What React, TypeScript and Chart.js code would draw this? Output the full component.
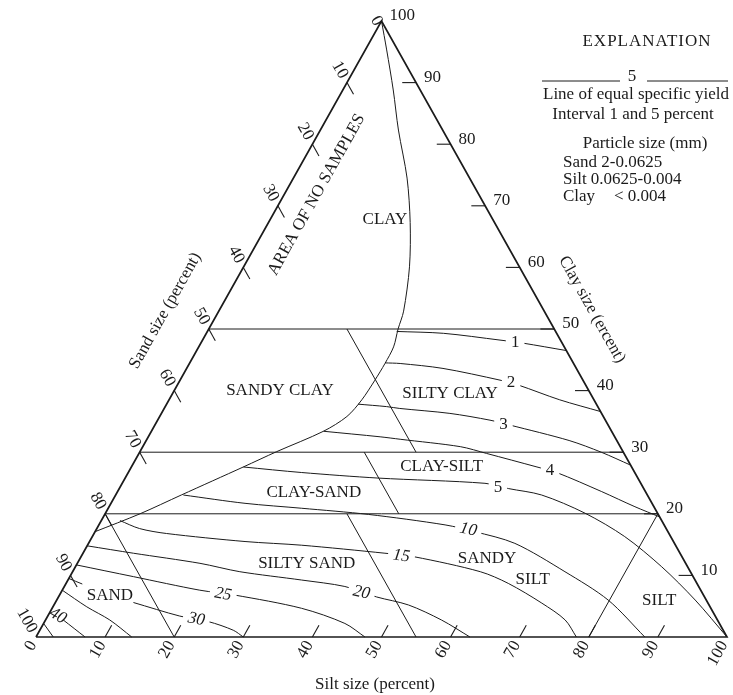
import React, { useEffect, useRef } from "react";
import { Chart, registerables } from "chart.js";

Chart.register(...registerables);

// A point is [silt %, clay %]; sand is whatever remains to 100.
type Pt = [number, number] | null;

const INK = "#1b1b1b";
const SERIF = "'Liberation Serif', 'Times New Roman', Times, serif";

// ---- axis ticks (percent) ----
const sandTicks = [10, 20, 30, 40, 50, 60, 70, 80, 90];
const siltTicks = [10, 20, 30, 40, 50, 60, 70, 80, 90];
const clayTicks = [10, 20, 30, 40, 50, 60, 70, 80, 90];
const sandTickLabels = [0, 10, 20, 30, 40, 50, 60, 70, 80, 90, 100];
const siltTickLabels = [0, 10, 20, 30, 40, 50, 60, 70, 80, 90, 100];
const clayTickLabels = [10, 20, 30, 40, 50, 60, 70, 80, 90, 100];

// ---- triangle and class boundaries ----
const frame: Pt[] = [[0, 0], [100, 0], [0, 100], [0, 0]];
const clay50: Pt[] = [[0, 50], [50, 50]];
const clay30: Pt[] = [[0, 30], [70, 30]];
const clay20: Pt[] = [[0, 20], [80, 20]];
const sandyClaySplit: Pt[] = [[20, 50], [40, 30]];
const claySandSplit: Pt[] = [[32.5, 30], [42.5, 20]];
const siltySandSplit: Pt[] = [[35, 20], [55, 0]];
const sandLimit: Pt[] = [[0, 20], [20, 0]];
const siltLimit: Pt[] = [[80, 20], [80, 0]];

// edge of the sampled area (clay field / area of no samples)
const sampledEdge: Pt[] = [
  [0, 100], [3.1, 95.3], [7.3, 88.8], [11.3, 82.3], [16.45, 74.5], [20.5, 67.3],
  [24.0, 60.1], [26.75, 52.9], [27.4, 50], [28.2, 47.1], [28.3, 44.4], [28.2, 41.7],
  [27.9, 38.5], [27.1, 35.8], [24.9, 33.4], [19.8, 30.1], [16.2, 27.6], [9.5, 23.05],
  [5.05, 20.0], [0, 17.1],
];

// ---- lines of equal specific yield (percent) ----
const sy1: Pt[] = [[27.4, 49.6], [34.3, 49.3], [43.05, 48.2], [46.65, 47.7], [53.5, 46.5]];
const sy2: Pt[] = [[28.25, 44.5], [30.5, 44.4], [37.1, 43.6], [46.3, 41.7], [49.35, 40.9], [56.55, 38.5], [63.4, 36.6]];
const sy3: Pt[] = [[27.7, 37.8], [32.05, 37.4], [34.1, 37.1], [41.75, 36.3], [48.1, 35.2], [51.4, 34.4], [61.2, 31.9], [66.8, 30.0], [72.1, 27.9]];
const sy4: Pt[] = [[24.9, 33.4], [33.55, 32.5], [36.65, 32.1], [45.95, 30.9], [50.3, 29.8], [58.7, 27.6], [62.0, 26.7], [70.07, 23.6], [76.1, 21.15], [80.5, 19.5]];
const sy5: Pt[] = [[16.2, 27.6], [25.1, 26.7], [36.6, 25.8], [52.5, 24.95], [56.3, 24.1], [61.65, 23.05], [69.4, 20.1], [77.05, 16.3], [84.85, 11.4], [92.4, 6.0], [100, 0]];
const sy10: Pt[] = [[9.8, 23.05], [19.4, 21.7], [28.0, 20.9], [38.15, 19.9], [50.1, 18.2], [54.95, 17.1], [61.7, 15.2], [71.25, 10.6], [79.8, 6.0], [88.1, 0]];
const sy15: Pt[] = [[2.7, 18.9], [6.2, 17.6], [10.5, 16.8], [22.5, 15.5], [31.0, 14.9], [43.7, 13.6], [48.35, 13.0], [59.0, 10.6], [64.0, 8.7], [70.45, 5.5], [75.2, 2.76], [78.2, 0]];
const sy20: Pt[] = [[0, 14.8], [7.3, 13.6], [17.75, 11.96], [24.2, 10.6], [33.8, 9.25], [40.6, 8.2], [46.05, 6.5], [51.3, 5.2], [57.3, 2.76], [62.8, 0]];
const sy25: Pt[] = [[0, 11.7], [9.2, 9.8], [19.9, 7.6], [25.4, 6.8], [36.1, 4.66], [43.6, 2.2], [47.6, 0]];
const sy30: Pt[] = [[0, 9.5], [2.4, 8.6], null, [11.3, 5.6], [19.1, 3.4], [23.7, 2.5], [28.0, 1.1], [30.0, 0]];
const sy35: Pt[] = [[0, 7.6], [4.9, 4.9], [9.3, 2.76], [13.85, 0]];
const sy40: Pt[] = [[2.57, 2.76], [7.1, 0]];
const sy45: Pt[] = [[0, 2.2], [2.5, 0]];

// value labels on the yield lines: [silt, clay] anchor, rotation in degrees
const yieldLabels = [
  { text: "1", at: [45.4, 47.9], rot: 0, italic: false, mask: true },
  { text: "2", at: [48.0, 41.5], rot: 0, italic: false, mask: true },
  { text: "3", at: [50.3, 34.7], rot: 0, italic: false, mask: true },
  { text: "4", at: [60.8, 27.2], rot: 0, italic: false, mask: true },
  { text: "5", at: [54.6, 24.5], rot: 0, italic: false, mask: true },
  { text: "10", at: [53.8, 17.6], rot: 12, italic: true, mask: true },
  { text: "15", at: [46.25, 13.3], rot: 8, italic: true, mask: true },
  { text: "20", at: [43.45, 7.35], rot: 12, italic: true, mask: true },
  { text: "25", at: [23.55, 7.1], rot: 10, italic: true, mask: true },
  { text: "30", at: [21.7, 3.04], rot: 10, italic: true, mask: true },
  { text: "40", at: [1.45, 3.57], rot: 30, italic: true, mask: false },
];

// class names: [silt, clay] centre, rotation in degrees
const classLabels = [
  { text: "CLAY", at: [16.65, 67.7], rot: 0 },
  { text: "AREA OF NO SAMPLES", at: [4.7, 71.8], rot: -60.7 },
  { text: "SANDY CLAY", at: [15.3, 40.0], rot: 0 },
  { text: "SILTY CLAY", at: [40.2, 39.45], rot: 0 },
  { text: "CLAY-SILT", at: [44.85, 27.7], rot: 0 },
  { text: "CLAY-SAND", at: [28.5, 23.4], rot: 0 },
  { text: "SILTY SAND", at: [33.25, 11.85], rot: 0 },
  { text: "SANDY", at: [58.9, 12.76], rot: 0 },
  { text: "SILT", at: [67.2, 9.37], rot: 0 },
  { text: "SAND", at: [7.3, 6.8], rot: 0 },
  { text: "SILT", at: [87.2, 6.0], rot: 0 },
];

const toXY = (pts: Pt[]) =>
  pts.map((p) => (p === null ? { x: 0, y: null } : { x: p[0] + p[1] / 2, y: p[1] }));

const lineSet = (pts: Pt[], width: number, tension: number) => ({
  data: toXY(pts),
  showLine: true,
  borderColor: INK,
  borderWidth: width,
  pointRadius: 0,
  tension,
  fill: false,
  clip: false as const,
});

const ternaryDecor = {
  id: "ternaryDecor",
  afterDatasetsDraw(chart: any) {
    const { ctx, scales } = chart;
    const xs = scales.x;
    const ys = scales.y;
    const P = (s: number, c: number) => ({ x: xs.getPixelForValue(s + c / 2), y: ys.getPixelForValue(c) });
    const U = (u: number, c: number) => ({ x: xs.getPixelForValue(u), y: ys.getPixelForValue(c) });
    const unit = (a: any, b: any) => {
      const dx = b.x - a.x, dy = b.y - a.y, l = Math.hypot(dx, dy);
      return { x: dx / l, y: dy / l };
    };
    const seg = (a: any, b: any) => {
      ctx.beginPath();
      ctx.moveTo(a.x, a.y);
      ctx.lineTo(b.x, b.y);
      ctx.stroke();
    };
    const text = (str: string, x: number, y: number, rot: number, align: CanvasTextAlign, font: string, spacing = "0px") => {
      ctx.save();
      ctx.translate(x, y);
      ctx.rotate(rot);
      ctx.font = font;
      (ctx as any).letterSpacing = spacing;
      ctx.textAlign = align;
      ctx.textBaseline = "middle";
      ctx.fillStyle = INK;
      ctx.fillText(str, 0, 0);
      ctx.restore();
    };
    const f17 = `17px ${SERIF}`;

    ctx.save();
    ctx.strokeStyle = INK;
    ctx.lineWidth = 1.1;

    // tick marks, each running a short way along its own constant-value line
    siltTicks.forEach((s) => seg(P(s, 0), P(s, 1.9)));
    sandTicks.forEach((a) => seg(P(0, 100 - a), P(1.9, 98.1 - a)));
    clayTicks.forEach((c) => seg(P(100 - c, c), P(98 - c, c)));

    // silt numbers under the base
    siltTickLabels.forEach((s) => {
      const b = P(s, 0);
      const v = unit(b, P(s, 10));
      text(String(s), b.x - v.x * 6, b.y - v.y * 6, Math.atan2(v.y, v.x), "right", f17);
    });
    // sand numbers outside the left side
    sandTickLabels.forEach((a) => {
      const e = P(0, 100 - a);
      const w = unit(e, P(10, 90 - a));
      const rot = Math.atan2(w.y, w.x);
      if (a === 0) {
        text("0", e.x - 5, e.y, rot, "center", f17);
      } else {
        text(String(a), e.x - w.x * 6, e.y - w.y * 6, rot, "right", f17);
      }
    });
    // clay numbers outside the right side
    clayTickLabels.forEach((c) => {
      const e = P(100 - c, c);
      text(String(c), e.x + 8, e.y - 5, 0, "left", f17);
    });

    // axis titles
    const left = unit(P(0, 0), P(0, 100));
    const right = unit(P(0, 100), P(100, 0));
    const ts = U(18.71, 52.97);
    text("Sand size (percent)", ts.x, ts.y, Math.atan2(left.y, left.x), "center", f17);
    const tc = U(80.46, 53.15);
    text("Clay size (ercent)", tc.x, tc.y, Math.atan2(right.y, right.x), "center", f17);
    const tb = U(49.06, -7.79);
    text("Silt size (percent)", tb.x, tb.y, 0, "center", f17);

    // class names
    classLabels.forEach((l) => {
      const p = P(l.at[0], l.at[1]);
      text(l.text, p.x, p.y, (l.rot * Math.PI) / 180, "center", f17);
    });

    // values on the yield lines, set into a small gap in the line
    yieldLabels.forEach((l) => {
      const p = P(l.at[0], l.at[1]);
      const font = `${l.italic ? "italic " : ""}17px ${SERIF}`;
      ctx.save();
      ctx.translate(p.x, p.y);
      ctx.rotate((l.rot * Math.PI) / 180);
      ctx.font = font;
      const w = ctx.measureText(l.text).width;
      if (l.mask) {
        ctx.fillStyle = "#fff";
        ctx.fillRect(-w / 2 - 5, -6, w + 10, 12);
      }
      ctx.fillStyle = INK;
      ctx.textAlign = "center";
      ctx.textBaseline = "middle";
      ctx.fillText(l.text, 0, 1);
      ctx.restore();
    });

    // explanation block
    text("EXPLANATION", 647, 42, 0, "center", f17, "1px");
    ctx.lineWidth = 1;
    seg({ x: 542, y: 81 }, { x: 620, y: 81 });
    seg({ x: 647, y: 81 }, { x: 728, y: 81 });
    text("5", 632, 77, 0, "center", f17);
    text("Line of equal specific yield", 636, 95, 0, "center", f17);
    text("Interval 1 and 5 percent", 633, 115, 0, "center", f17);
    text("Particle size (mm)", 645, 144, 0, "center", f17);
    text("Sand 2-0.0625", 563, 163, 0, "left", f17);
    text("Silt 0.0625-0.004", 563, 180, 0, "left", f17);
    text("Clay", 563, 197, 0, "left", f17);
    text("< 0.004", 614, 197, 0, "left", f17);

    ctx.restore();
  },
};

export default function App() {
  const ref = useRef<HTMLCanvasElement>(null);

  useEffect(() => {
    if (!ref.current) return;
    const chart = new Chart(ref.current, {
      type: "scatter",
      data: {
        datasets: [
          lineSet(frame, 1.7, 0),
          lineSet(clay50, 1, 0),
          lineSet(clay30, 1, 0),
          lineSet(clay20, 1, 0),
          lineSet(sandyClaySplit, 1, 0),
          lineSet(claySandSplit, 1, 0),
          lineSet(siltySandSplit, 1, 0),
          lineSet(sandLimit, 1, 0),
          lineSet(siltLimit, 1, 0),
          lineSet(sampledEdge, 1, 0.3),
          lineSet(sy1, 1, 0.3),
          lineSet(sy2, 1, 0.3),
          lineSet(sy3, 1, 0.3),
          lineSet(sy4, 1, 0.3),
          lineSet(sy5, 1, 0.3),
          lineSet(sy10, 1, 0.3),
          lineSet(sy15, 1, 0.3),
          lineSet(sy20, 1, 0.3),
          lineSet(sy25, 1, 0.3),
          lineSet(sy30, 1, 0.3),
          lineSet(sy35, 1, 0.3),
          lineSet(sy40, 1, 0.3),
          lineSet(sy45, 1, 0),
        ] as any,
      },
      options: {
        animation: false,
        responsive: false,
        events: [],
        layout: { padding: { left: 36, right: 6, top: 21, bottom: 58 } },
        plugins: { legend: { display: false }, tooltip: { enabled: false } },
        scales: {
          x: { type: "linear", min: 0, max: 100, display: false },
          y: { type: "linear", min: 0, max: 100, display: false },
        },
      },
      plugins: [ternaryDecor],
    });
    return () => chart.destroy();
  }, []);

  return (
    <div style={{ position: "absolute", left: 0, top: 0, width: 733, height: 695, background: "#fff" }}>
      <canvas ref={ref} width={733} height={695} style={{ display: "block", width: 733, height: 695 }} />
    </div>
  );
}
